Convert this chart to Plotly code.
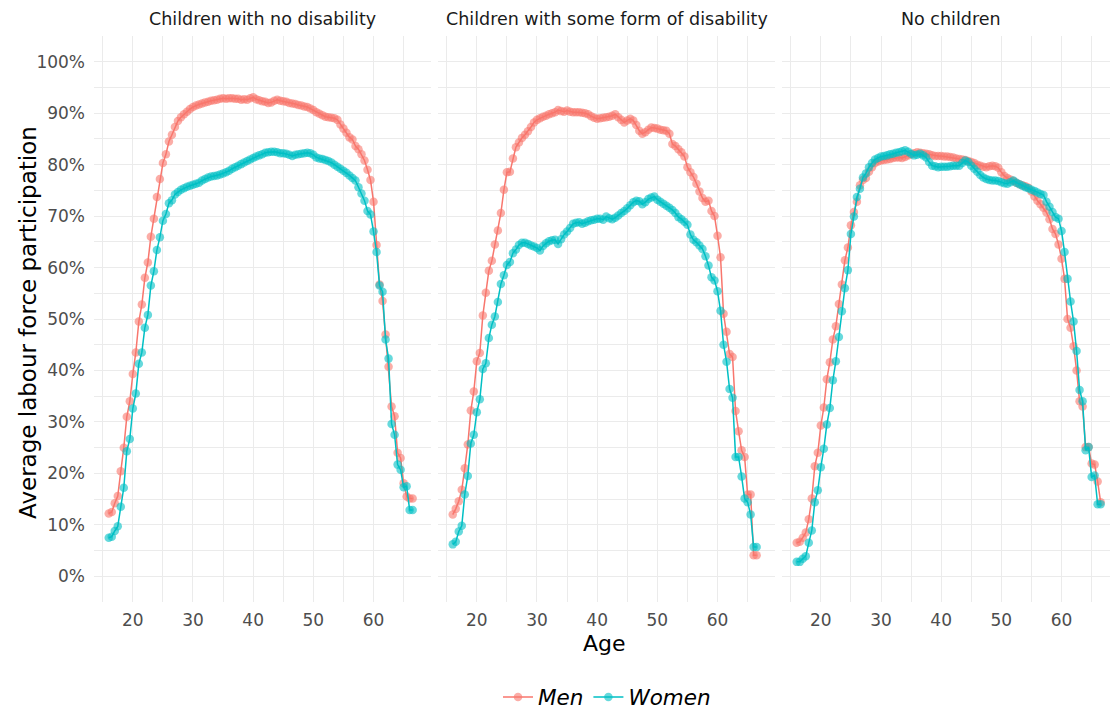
import plotly.graph_objects as go

AGES = [16.0, 16.5, 17.0, 17.5, 18.0, 18.5, 19.0, 19.5, 20.0, 20.5,
        21.0, 21.5, 22.0, 22.5, 23.0, 23.5, 24.0, 24.5, 25.0, 25.5,
        26.0, 26.5, 27.0, 27.5, 28.0, 28.5, 29.0, 29.5, 30.0, 30.5,
        31.0, 31.5, 32.0, 32.5, 33.0, 33.5, 34.0, 34.5, 35.0, 35.5,
        36.0, 36.5, 37.0, 37.5, 38.0, 38.5, 39.0, 39.5, 40.0, 40.5,
        41.0, 41.5, 42.0, 42.5, 43.0, 43.5, 44.0, 44.5, 45.0, 45.5,
        46.0, 46.5, 47.0, 47.5, 48.0, 48.5, 49.0, 49.5, 50.0, 50.5,
        51.0, 51.5, 52.0, 52.5, 53.0, 53.5, 54.0, 54.5, 55.0, 55.5,
        56.0, 56.5, 57.0, 57.5, 58.0, 58.5, 59.0, 59.5, 60.0, 60.5,
        61.0, 61.5, 62.0, 62.5, 63.0, 63.5, 64.0, 64.5, 65.0, 65.5,
        66.0, 66.5]

PANELS = ["Children with no disability", "Children with some form of disability", "No children"]
GROUPS = ["Men", "Women"]

# Children with no disability
NODIS_MEN = [12.2, 12.5, 14.2, 15.6, 20.4, 25.0, 31.0, 34.0, 39.3, 43.5,
             49.5, 52.8, 58.0, 61.0, 66.0, 69.5, 73.7, 77.2, 80.3, 82.0,
             84.5, 85.8, 87.3, 88.5, 89.2, 89.8, 90.3, 90.8, 91.2, 91.5,
             91.7, 91.9, 92.1, 92.2, 92.4, 92.5, 92.6, 92.8, 92.9, 92.8,
             92.9, 92.9, 92.8, 92.8, 92.6, 92.7, 92.6, 92.9, 93.1, 92.7,
             92.5, 92.3, 92.2, 92.0, 92.1, 92.4, 92.6, 92.4, 92.3, 92.2,
             92.0, 91.9, 91.8, 91.6, 91.5, 91.3, 91.2, 90.9, 90.6, 90.2,
             89.9, 89.6, 89.3, 89.2, 89.1, 89.0, 88.7, 87.8, 87.0, 86.2,
             85.3, 84.9, 83.6, 83.0, 82.0, 80.8, 79.0, 77.0, 72.8, 64.4,
             56.7, 53.5, 47.0, 40.7, 33.0, 31.1, 24.0, 23.0, 18.1, 15.5,
             15.1, 15.1]
NODIS_WOMEN = [7.5, 7.7, 8.8, 9.7, 13.5, 17.2, 24.3, 26.7, 32.6, 35.5,
               41.3, 43.5, 48.3, 50.8, 56.5, 59.3, 63.4, 65.9, 69.1, 70.4,
               72.5, 73.1, 74.2, 74.7, 75.1, 75.4, 75.7, 75.9, 76.1, 76.3,
               76.5, 76.9, 77.2, 77.5, 77.7, 77.8, 77.9, 78.1, 78.3, 78.5,
               78.8, 79.2, 79.5, 79.8, 80.1, 80.4, 80.7, 81.0, 81.3, 81.6,
               81.8, 82.0, 82.3, 82.4, 82.5, 82.5, 82.4, 82.2, 82.2, 82.1,
               81.9, 81.7, 81.9, 82.0, 82.1, 82.2, 82.3, 82.2, 81.9, 81.4,
               81.2, 81.1, 80.9, 80.7, 80.4, 80.0, 79.6, 79.2, 78.8, 78.4,
               77.9, 77.4, 76.9, 75.6, 74.4, 73.0, 71.0, 70.3, 67.0, 63.0,
               56.5, 55.3, 46.0, 42.3, 29.6, 27.5, 21.7, 20.7, 17.3, 17.5,
               12.9, 12.9]

# Children with some form of disability
DIS_MEN = [12.0, 13.1, 14.6, 16.8, 21.0, 25.6, 32.2, 35.9, 41.8, 43.4,
           50.7, 55.1, 59.4, 61.3, 64.5, 67.2, 70.6, 75.1, 78.5, 78.6,
           81.2, 83.4, 84.3, 85.2, 85.8, 86.5, 87.3, 88.2, 88.7, 89.0,
           89.3, 89.5, 89.8, 90.0, 90.2, 90.6, 90.4, 90.3, 90.5, 90.3,
           90.2, 90.2, 90.2, 90.1, 90.0, 89.8, 89.4, 89.1, 88.9, 89.0,
           89.1, 89.2, 89.3, 89.5, 89.8, 89.2, 88.7, 88.2, 88.6, 88.9,
           88.6, 87.7, 86.6, 86.0, 86.3, 86.8, 87.2, 87.1, 87.0, 86.8,
           86.7, 86.6, 86.0, 84.0, 83.6, 83.0, 82.4, 81.6, 79.5, 78.5,
           77.6, 76.3, 74.8, 73.5, 72.8, 73.0, 71.0, 70.0, 66.2, 62.0,
           51.0, 47.5, 43.2, 42.6, 32.1, 28.2, 24.5, 23.2, 15.9, 15.9,
           4.1, 4.1]
DIS_WOMEN = [6.2, 6.7, 8.7, 9.8, 15.9, 19.5, 25.8, 27.5, 31.9, 34.4,
             40.3, 41.4, 46.3, 48.9, 50.5, 53.3, 56.8, 58.5, 60.5, 61.1,
             62.8, 63.5, 64.4, 64.8, 64.8, 64.6, 64.3, 64.1, 63.8, 63.3,
             64.2, 64.7, 65.1, 65.3, 65.4, 64.6, 65.5, 66.4, 67.0, 67.7,
             68.5, 68.7, 68.8, 68.5, 68.7, 69.0, 69.2, 69.3, 69.5, 69.5,
             69.3, 69.9, 69.6, 69.4, 69.7, 70.1, 70.6, 71.0, 71.5, 72.1,
             72.7, 73.0, 72.9, 72.3, 72.7, 73.3, 73.6, 73.8, 73.2, 72.8,
             72.4, 72.0, 71.6, 71.2, 70.6, 69.8, 69.4, 68.9, 68.3, 66.4,
             65.4, 64.9, 64.3, 63.6, 62.2, 60.4, 58.1, 57.5, 55.4, 51.6,
             45.0, 41.7, 36.4, 34.7, 23.2, 23.2, 19.4, 15.1, 14.4, 12.0,
             5.7, 5.7]

# No children
NOCH_MEN = [6.5, 6.7, 7.5, 8.5, 11.1, 15.1, 21.4, 24.0, 29.3, 32.8,
            38.3, 41.6, 46.0, 48.6, 52.9, 56.7, 61.4, 63.9, 68.2, 70.8,
            72.8, 76.0, 77.0, 77.4, 78.6, 79.5, 80.3, 80.6, 80.8, 80.9,
            81.0, 81.1, 81.3, 81.4, 81.4, 81.3, 81.5, 81.8, 82.0, 82.2,
            82.4, 82.3, 82.2, 82.1, 82.0, 81.8, 81.7, 81.7, 81.7, 81.6,
            81.6, 81.5, 81.4, 81.2, 81.1, 81.0, 80.9, 80.7, 80.5, 80.3,
            80.0, 79.8, 79.6, 79.5, 79.7, 79.8, 79.7, 79.4, 78.5, 77.8,
            77.4, 77.1, 76.8, 76.5, 76.2, 76.0, 75.8, 75.5, 74.8, 73.8,
            73.0, 72.3, 71.6, 70.7, 69.4, 67.5, 66.5, 64.5, 61.7, 57.8,
            50.0, 48.3, 44.7, 40.0, 34.0, 33.0, 25.1, 25.1, 21.9, 21.7,
            18.4, 14.4]
NOCH_WOMEN = [2.8, 2.8, 3.4, 3.9, 6.5, 8.9, 14.4, 16.7, 21.2, 24.8,
              29.5, 32.7, 38.1, 41.8, 46.5, 51.5, 56.0, 59.5, 66.5, 69.9,
              73.7, 75.3, 77.5, 78.3, 79.5, 80.3, 81.0, 81.3, 81.6, 81.7,
              81.8, 82.0, 82.1, 82.3, 82.4, 82.6, 82.8, 82.5, 82.1, 81.8,
              81.9, 82.1, 81.8, 81.4, 80.5, 79.8, 79.7, 79.5, 79.6, 79.6,
              79.6, 79.7, 79.8, 79.8, 79.8, 80.3, 80.8, 80.5, 79.8, 79.2,
              78.6, 78.0, 77.5, 77.2, 77.0, 76.9, 76.9, 76.8, 76.6, 76.4,
              76.3, 76.6, 76.9, 76.5, 76.2, 75.9, 75.6, 75.4, 75.1, 74.9,
              74.6, 74.3, 74.1, 72.8, 71.8, 70.8, 69.8, 69.5, 67.1, 63.0,
              57.8, 53.4, 49.5, 43.8, 36.2, 34.0, 24.5, 25.1, 19.3, 19.6,
              14.0, 14.0]

X_TICKS = [20, 30, 40, 50, 60]
Y_TICKS = [0, 10, 20, 30, 40, 50, 60, 70, 80, 90, 100]
Y_TICK_TEXT = [f"{v}%" for v in Y_TICKS]

SERIES = [[NODIS_MEN, NODIS_WOMEN], [DIS_MEN, DIS_WOMEN], [NOCH_MEN, NOCH_WOMEN]]
COLORS = {"Men": "#F8766D", "Women": "#00BFC4"}

FONT = "DejaVu Sans, sans-serif"
W, H = 1110, 710
L, R, T, B = 94, 0, 36, 108
PW = W - L - R
PH = H - T - B

# panel pixel extents
panel_px = [(94, 431), (438, 775), (782, 1110)]
x_ranges = [[13.55, 69.55], [13.55, 69.55], [13.55, 13.55 + (1110 - 782) / 6.018]]

fig = go.Figure()
for p in range(3):
    xa = "x" if p == 0 else f"x{p+1}"
    ya = "y" if p == 0 else f"y{p+1}"
    for g, name in enumerate(GROUPS):
        fig.add_trace(go.Scatter(
            x=AGES, y=SERIES[p][g], mode="lines+markers", name=name,
            xaxis=xa, yaxis=ya, legendgroup=name, showlegend=(p == 0),
            line=dict(color=COLORS[name], width=1.5),
            marker=dict(color=COLORS[name], size=8.5, opacity=0.6, line=dict(width=0)),
        ))

grid_major = "#EBEBEB"
layout = dict(
    width=W, height=H,
    margin=dict(l=L, r=R, t=T, b=B, autoexpand=False),
    paper_bgcolor="white", plot_bgcolor="white",
    font=dict(family=FONT, color="#4D4D4D", size=17),
    legend=dict(orientation="h", x=(607 - L) / PW, xanchor="center",
                y=-(697 - (T + PH)) / PH, yanchor="middle",
                font=dict(family=FONT, size=21.5, color="#000000", style="italic"),
                itemwidth=30, bgcolor="rgba(0,0,0,0)", traceorder="normal"),
)
for p in range(3):
    xk = "xaxis" if p == 0 else f"xaxis{p+1}"
    yk = "yaxis" if p == 0 else f"yaxis{p+1}"
    x0, x1 = panel_px[p]
    layout[xk] = dict(
        domain=[(x0 - L) / PW, (x1 - L) / PW], range=x_ranges[p],
        anchor="y" if p == 0 else f"y{p+1}",
        tickvals=X_TICKS, ticktext=[str(v) for v in X_TICKS],
        showgrid=True, gridcolor=grid_major, gridwidth=1.1,
        zeroline=False, showline=False, ticks="", automargin=False,
        ticklabelstandoff=6,
        tickfont=dict(family=FONT, size=17, color="#4D4D4D"),
        minor=dict(tickvals=[15, 25, 35, 45, 55, 65], showgrid=True,
                   gridcolor=grid_major, gridwidth=0.6),
    )
    layout[yk] = dict(
        domain=[0, 1], range=[-5, 105],
        anchor="x" if p == 0 else f"x{p+1}",
        tickvals=Y_TICKS, ticktext=Y_TICK_TEXT,
        showticklabels=(p == 0),
        showgrid=True, gridcolor=grid_major, gridwidth=1.1,
        zeroline=False, showline=False, ticks="", automargin=False,
        ticklabelstandoff=8,
        tickfont=dict(family=FONT, size=17, color="#4D4D4D"),
        minor=dict(tickvals=[-5, 5, 15, 25, 35, 45, 55, 65, 75, 85, 95, 105],
                   showgrid=True, gridcolor=grid_major, gridwidth=0.6),
    )
    if p > 0:
        layout[yk]["matches"] = "y"

fig.update_layout(**layout)

annotations = []
strip_centers = [(94 + 431) / 2, (438 + 775) / 2, (782 + 1119) / 2]
for p, title in enumerate(PANELS):
    annotations.append(dict(
        text=title, xref="paper", yref="paper",
        x=(strip_centers[p] - L) / PW, y=(T + PH - 19) / PH,
        xanchor="center", yanchor="middle", showarrow=False,
        font=dict(family=FONT, size=17.5, color="#1A1A1A")))
annotations.append(dict(
    text="Age", xref="paper", yref="paper",
    x=(604 - L) / PW, y=-(643 - (T + PH)) / PH,
    xanchor="center", yanchor="middle", showarrow=False,
    font=dict(family=FONT, size=22, color="#000000")))
annotations.append(dict(
    text="Average labour force participation", xref="paper", yref="paper",
    x=(28 - L) / PW, y=((T + PH) - 323) / PH, textangle=-90,
    xanchor="center", yanchor="middle", showarrow=False,
    font=dict(family=FONT, size=23, color="#000000")))
fig.update_layout(annotations=annotations)

fig.write_html("out.html", config={"displayModeBar": False},
               post_script="document.body.style.margin='0px';")
